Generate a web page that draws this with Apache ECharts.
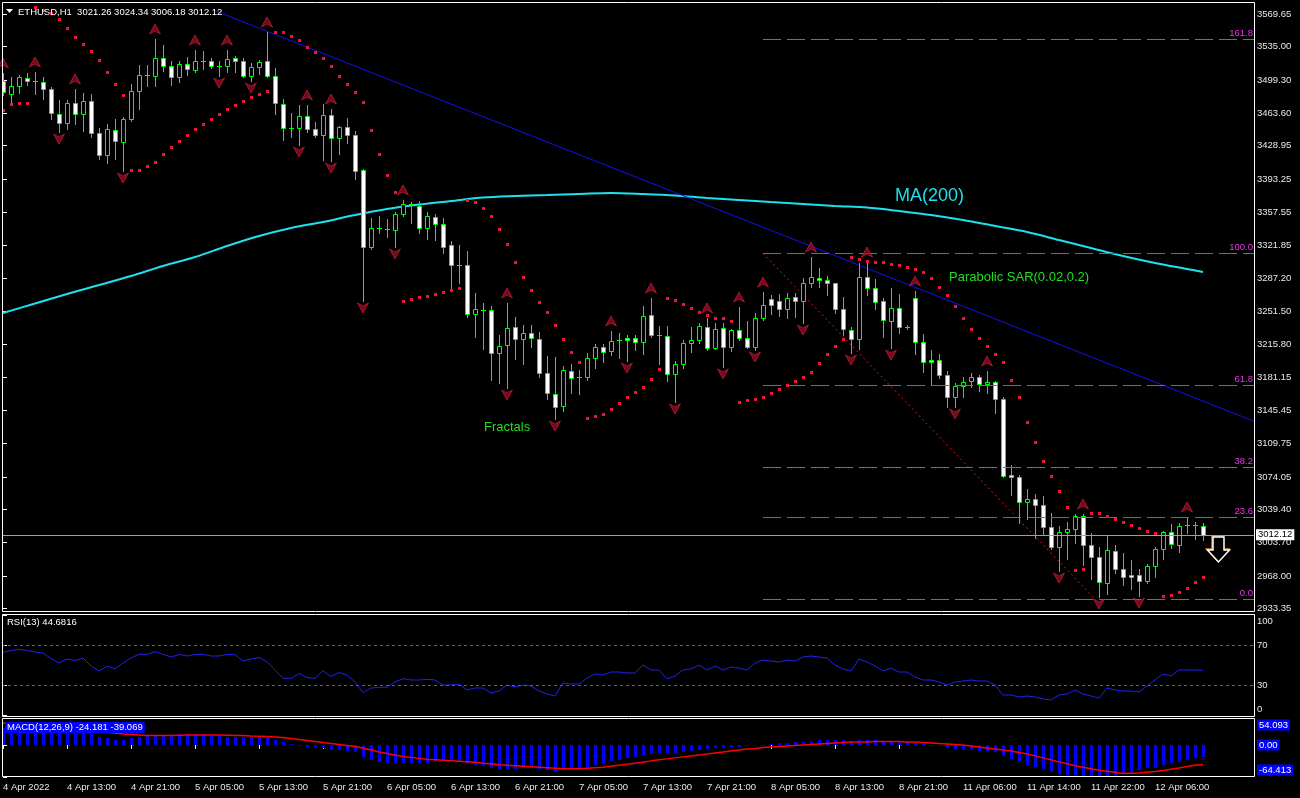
<!DOCTYPE html>
<html><head><meta charset="utf-8">
<script src="https://cdn.jsdelivr.net/npm/echarts@6/dist/echarts.min.js"></script>
<style>html,body{margin:0;padding:0;background:#000;}#c{width:1300px;height:798px;}</style>
</head><body><div id="c"></div>
<script>
// ---------- DATA ----------
const timeLabels = ['4 Apr 2022','4 Apr 13:00','4 Apr 21:00','5 Apr 05:00','5 Apr 13:00','5 Apr 21:00','6 Apr 05:00','6 Apr 13:00','6 Apr 21:00','7 Apr 05:00','7 Apr 13:00','7 Apr 21:00','8 Apr 05:00','8 Apr 13:00','8 Apr 21:00','11 Apr 06:00','11 Apr 14:00','11 Apr 22:00','12 Apr 06:00'];
const labelStep = 8;
// [open, close, low, high]
const candles = [
[3498.2,3486.4,3483.2,3506.8],[3484.3,3492.9,3475.7,3502.5],[3492.9,3502.5,3485.4,3504.7],[3501.4,3498.2,3493.9,3506.8],[3498.4,3498.0,3484.3,3507.9],
[3497.2,3489.7,3479.0,3502.5],[3489.7,3464.0,3457.5,3491.8],[3462.9,3453.2,3443.6,3477.9],[3453.2,3474.7,3446.8,3477.9],[3474.7,3462.9,3452.2,3489.7],
[3462.9,3476.8,3444.7,3485.4],[3476.8,3442.5,3438.2,3484.3],[3442.5,3419.0,3414.7,3447.9],[3419.0,3446.8,3410.4,3452.2],[3445.7,3434.0,3414.7,3457.5],
[3432.9,3457.5,3401.8,3459.7],[3457.5,3487.5,3455.4,3495.0],[3487.5,3504.7,3468.2,3515.4],[3504.7,3505.0,3492.9,3515.4],[3503.6,3522.9,3492.9,3543.2],
[3522.9,3514.3,3508.9,3536.8],[3514.3,3502.5,3493.9,3519.7],[3502.5,3516.4,3497.2,3519.7],[3516.4,3511.1,3504.7,3523.9],[3510.0,3519.7,3507.9,3531.4],
[3519.5,3519.9,3511.1,3530.4],[3519.7,3514.3,3512.2,3522.9],[3514.5,3514.1,3503.6,3519.7],[3514.3,3521.8,3507.9,3531.4],[3522.9,3519.7,3507.9,3525.0],
[3519.7,3503.6,3502.5,3522.9],[3503.6,3513.2,3498.2,3517.5],[3513.2,3518.6,3505.7,3520.7],[3519.7,3503.6,3503.0,3550.7],[3503.6,3474.7,3462.9,3512.2],
[3473.6,3447.9,3435.0,3479.0],[3448.1,3447.7,3438.2,3464.0],[3447.9,3460.7,3429.7,3472.5],[3460.7,3446.8,3443.6,3472.5],[3446.8,3440.4,3438.2,3454.3],
[3440.4,3461.8,3413.6,3473.6],[3461.8,3437.2,3412.5,3468.2],[3437.2,3449.0,3420.0,3450.0],[3449.0,3440.4,3431.8,3458.6],[3440.4,3401.8,3393.3,3444.7],
[3402.9,3320.4,3262.6,3403.5],[3320.4,3340.8,3318.3,3351.5],[3340.6,3341.0,3335.4,3353.6],[3339.5,3339.9,3331.1,3350.4],[3338.6,3355.8,3320.4,3357.9],
[3355.8,3366.5,3353.6,3370.8],[3366.0,3366.3,3346.1,3368.6],[3364.3,3340.8,3335.4,3369.7],[3340.8,3353.6,3329.0,3357.9],[3352.5,3345.0,3327.9,3355.8],
[3345.0,3320.4,3314.0,3351.5],[3322.6,3301.1,3276.5,3326.8],[3301.3,3300.9,3281.8,3322.6],[3301.1,3248.6,3245.4,3316.1],[3248.6,3254.0,3224.0,3271.1],
[3252.7,3253.1,3211.2,3260.4],[3252.9,3206.9,3177.9,3257.2],[3206.9,3214.4,3174.7,3226.1],[3215.4,3233.6,3169.4,3260.4],[3234.7,3221.9,3200.4,3245.4],
[3221.9,3228.3,3195.1,3236.9],[3228.3,3222.9,3213.3,3236.9],[3221.9,3185.4,3181.2,3229.4],[3185.4,3164.0,3157.6,3203.7],[3162.9,3149.0,3136.2,3202.6],
[3150.1,3188.7,3144.7,3192.9],[3187.6,3180.1,3164.0,3195.1],[3181.0,3181.4,3162.9,3188.7],[3181.2,3201.5,3177.9,3206.9],[3201.5,3213.3,3190.8,3216.5],
[3213.3,3207.9,3197.2,3216.5],[3209.0,3219.7,3204.7,3230.4],[3220.6,3220.9,3201.5,3228.3],[3222.9,3220.8,3198.3,3226.1],[3222.9,3218.6,3210.1,3226.1],
[3218.6,3246.5,3205.8,3257.2],[3247.6,3226.1,3224.0,3265.8],[3226.3,3225.9,3195.1,3235.8],[3225.1,3184.4,3176.9,3235.8],[3184.4,3195.1,3154.4,3198.3],
[3195.1,3217.6,3190.8,3220.8],[3217.6,3220.8,3207.9,3234.7],[3220.8,3235.8,3217.6,3239.0],[3234.7,3212.2,3210.1,3244.4],[3212.2,3232.6,3211.2,3239.0],
[3233.6,3213.3,3191.9,3239.0],[3213.3,3231.5,3209.0,3232.6],[3231.5,3222.9,3220.8,3256.1],[3222.9,3213.3,3212.2,3241.1],[3213.3,3244.4,3210.1,3249.7],
[3244.4,3258.3,3242.2,3272.2],[3264.7,3258.3,3248.6,3269.0],[3262.6,3254.0,3246.5,3270.1],[3254.0,3265.8,3244.4,3271.1],[3266.9,3262.6,3245.4,3271.1],
[3262.6,3281.8,3239.0,3287.2],[3281.8,3288.3,3277.6,3309.7],[3287.2,3285.1,3277.6,3297.9],[3285.1,3281.8,3269.0,3289.3],[3281.8,3254.0,3249.7,3282.2],
[3254.0,3232.6,3226.1,3266.9],[3231.5,3221.9,3206.9,3234.7],[3221.9,3288.3,3211.2,3303.3],[3288.3,3276.5,3269.0,3304.3],[3276.5,3261.5,3254.0,3286.1],
[3262.6,3242.2,3224.0,3265.8],[3241.1,3255.1,3212.2,3276.5],[3255.1,3234.7,3228.3,3270.1],[3234.9,3234.5,3232.6,3236.9],[3265.8,3218.6,3205.8,3273.3],
[3218.6,3197.2,3186.5,3227.2],[3199.4,3197.2,3172.6,3210.1],[3199.4,3183.3,3180.1,3205.8],[3183.3,3159.7,3149.0,3187.6],[3159.7,3171.5,3149.0,3174.7],
[3171.5,3175.8,3159.7,3181.2],[3176.9,3181.2,3170.4,3185.4],[3181.2,3173.7,3166.2,3183.3],[3173.7,3175.8,3164.0,3187.6],[3175.8,3157.6,3142.6,3176.9],
[3157.6,3075.1,3074.0,3159.7],[3076.2,3074.0,3054.8,3086.9],[3074.0,3047.3,3024.8,3076.2],[3047.3,3050.5,3029.0,3061.2],[3050.5,3044.0,3008.7,3055.8],
[3044.0,3020.5,3013.0,3053.7],[3020.5,2999.0,2996.9,3035.5],[2999.0,3015.1,2973.3,3021.5],[3015.1,3018.3,2986.2,3025.8],[3018.3,3032.3,3003.3,3034.4],
[3032.3,3001.2,2979.8,3034.4],[3001.2,2988.3,2964.8,3014.0],[2988.3,2961.6,2945.5,2999.0],[2960.5,2995.8,2948.7,3010.8],[2994.8,2975.5,2971.2,3001.2],
[2975.5,2966.9,2958.3,2992.6],[2969.1,2966.9,2954.1,2985.1],[2969.1,2962.6,2946.6,2975.5],[2962.6,2978.7,2960.5,2980.8],[2978.7,2996.9,2966.9,2999.0],
[2996.9,3015.1,2986.2,3016.2],[3015.1,3002.3,2998.0,3023.7],[3001.2,3021.5,2993.7,3024.8],[3022.4,3022.8,3014.0,3031.2],[3022.6,3022.2,3007.6,3025.8],
[3021.26,3012.12,3006.18,3024.34]
];
const sar = [
3467.2,3473.6,3474.7,3474.7,3577.2,3574.3,3570.8,3564.6,3555.0,3545.4,
3538.2,3530.4,3520.7,3507.9,3495.0,3483.2,3402.9,3402.9,3407.5,3411.5,
3420.0,3427.5,3434.0,3440.4,3446.8,3452.2,3457.5,3462.9,3468.2,3472.5,
3476.8,3481.1,3484.3,3487.5,3550.7,3550.7,3546.4,3542.2,3534.7,3529.3,
3522.9,3514.3,3503.6,3495.0,3486.4,3475.7,3445.7,3420.0,3397.5,3379.3,
3262.6,3264.7,3266.9,3267.9,3270.1,3272.2,3274.4,3276.5,3370.8,3368.6,
3362.2,3353.6,3339.7,3323.6,3304.3,3288.3,3274.4,3261.5,3250.8,3236.9,
3221.9,3207.9,3197.2,3137.2,3139.4,3141.5,3146.9,3153.3,3159.7,3165.1,
3170.4,3179.0,3189.7,3265.8,3263.6,3259.4,3255.1,3250.8,3247.6,3244.4,
3244.4,3241.1,3154.4,3156.5,3157.6,3159.7,3164.0,3168.3,3172.6,3176.9,
3181.2,3186.5,3196.2,3205.8,3214.4,3221.9,3309.7,3307.6,3305.4,3304.3,
3304.3,3302.2,3301.1,3299.0,3296.8,3293.6,3287.2,3277.6,3269.0,3257.2,
3244.4,3232.6,3222.9,3214.4,3205.8,3197.2,3177.9,3159.7,3133.0,3111.5,
3091.2,3075.1,3059.0,3041.9,2974.4,2975.5,3035.5,3035.5,3032.3,3029.0,
3025.8,3022.6,3019.4,3016.2,3014.0,2946.6,2947.6,2950.8,2955.1,2961.6,
2966.9];
const fractalUp = [0,4,9,19,24,28,33,38,41,50,63,76,81,88,92,95,101,108,114,123,135,148];
const fractalDown = [7,15,27,31,37,41,45,49,63,69,78,84,90,94,100,106,111,119,132,137,142];
const maIdx = [0,4,8,12,16,20,24,28,32,36,40,44,48,52,56,60,64,68,72,76,80,84,88,92,96,100,104,108,112,116,120,124,128,132,136,140,144,148,150];
const maVals = [3249.7,3259.9,3270.1,3279.7,3289.3,3300.1,3309.7,3321.5,3332.2,3340.8,3347.2,3354.7,3361.1,3365.9,3369.7,3373.4,3375.0,3376.1,3377.2,3378.3,3377.2,3375.6,3372.9,3370.8,3368.6,3366.5,3364.3,3362.7,3359.0,3354.7,3349.3,3342.9,3336.5,3327.9,3319.3,3310.8,3303.3,3296.8,3293.6];
const trendLine = [[26.25,3574.3],[156.375,3133.8]];
const fibAnchor = [[95,3313.7],[136.6,2942.6]];
const fibLabels = ['0.0','23.6','38.2','61.8','100.0','161.8'];
const fibPrices = [2942.6,3030.9,3084.7,3172.3,3313.7,3542.9];
const lastPrice = 3012.12;
const priceTicks = [3569.65,3535.00,3499.30,3463.60,3428.95,3393.25,3357.55,3321.85,3287.20,3251.50,3215.80,3181.15,3145.45,3109.75,3074.05,3039.40,3003.70,2968.00,2933.35];
const rsi = [
62.7,64.5,65.7,64.5,63.0,62.0,56.5,52.0,56.0,54.5,
57.0,49.0,44.0,49.0,46.3,52.0,57.0,60.7,60.7,63.3,
60.7,58.0,60.5,59.0,60.5,60.7,59.0,59.0,60.5,60.3,
54.0,56.0,57.5,53.3,45.0,36.7,36.7,41.5,37.5,36.7,
44.3,38.5,42.5,40.0,33.0,22.3,27.0,27.7,27.7,33.3,
36.2,35.0,35.0,35.7,35.0,30.0,30,31,25,27,
27,22,24,30,28,30,29,24,21,19,
32,31,31,37,41,40,43,43,42,42,
50,45,45,36,39,45,46,50,45,49,
45,48,47,45,52,55,54,53,55,54,
58,59,58,57,50,46,44,56,53,49,
44,47,43,43,38,35,35,33,30,33,
34,35,34,34,30,20,20,18,19,18,
16,15,20,21,25,21,19,17,27,25,
24,24,23,29,35,41,39,45,45,45,
44.68];
const rsiTicks = [0,30,70,100];
const macdMain = [
34,34,34,33,33,32,30,28,27,26,
25,22,15.4,13.4,10,10,13,16.7,18.7,20,
20,20,21.9,21.9,21.9,21.9,18.7,18.7,16.7,16.7,
15.4,16.7,15.4,13.4,10,5.4,2,-1.3,-4.6,-6.7,
-6.7,-10,-10,-11.3,-14.7,-23.3,-30,-34.7,-36,-36,
-36,-36,-36,-36,-35,-32,-33,-34,-38,-41,
-43,-47,-49,-48,-48,-47,-46,-48,-51,-54,
-51,-49,-47,-44,-40,-37,-33,-30,-27,-25,
-20,-18,-16,-17,-16,-14,-12,-10,-9,-7,
-6,-5,-4,-3,-2,0,2,3,4,5,
6,8,9,10,10,9,8,10,10,9,
8,7,7,6,3,1,-1,-3,-6,-8,
-10,-11,-12,-13,-15,-22,-28,-35,-40,-45,
-49,-54,-58,-60,-61,-62,-63,-64,-62,-61,
-58,-54,-50,-47,-46.7,-41.3,-36.7,-33.3,-30,-26,
-24.181];
const macdSignal = [
44,42,41,39,38,36,35,33,32,30,
29,27,26,25,24,22,21,20,19,18.7,
18.7,19,19.5,20,20,20,20,20,19.5,19,
18.7,18,17.5,17,16,15,13,11,9,7,
5,3,1,-1,-3,-6,-10,-14,-17,-20,
-23,-25,-27,-29,-30,-31,-32,-33,-34,-35,
-37,-38,-40,-41,-42,-43,-44,-45,-46,-47,
-48,-48,-48,-47,-46,-45,-43,-41,-39,-37,
-35,-32,-30,-28,-26,-24,-22,-20,-18,-16,
-14,-12,-10,-8,-7,-5,-4,-3,-2,-1,
0,1,2,3,4,5,6,6,6,7,
7,7,7,6,6,5,4,3,2,1,
0,-2,-4,-6,-8,-10,-12,-15,-18,-22,
-26,-30,-34,-38,-42,-45,-48,-51,-53,-55,
-57.5,-57,-56.5,-55,-53.5,-51.5,-49,-46.5,-43.5,-41,
-39.069];
const macdTicks = [-64.413,0,54.093];

// ---------- CHART ----------
const FONT = 'Liberation Sans, Arial, sans-serif';
const XMIN = -0.125, XMAX = 156.375;
const GREEN = '#00ff00';
const FIB = '#e020e0';
const chart = echarts.init(document.getElementById('c'), null, {renderer:'canvas'});

function renderCandle(params, api){
  const i = api.value(0), o = api.value(1), c = api.value(2), l = api.value(3), h = api.value(4);
  const pO = api.coord([i,o]), pC = api.coord([i,c]), pL = api.coord([i,l]), pH = api.coord([i,h]);
  const px = Math.floor(pO[0] + 0.01);
  const yTop = Math.round(Math.min(pO[1], pC[1])), yBot = Math.round(Math.max(pO[1], pC[1]));
  const ch = [{type:'line', shape:{x1:px+0.5, y1:Math.round(pH[1]), x2:px+0.5, y2:Math.round(pL[1])+1}, style:{stroke:GREEN, lineWidth:1}}];
  if (yBot - yTop < 1) {
    ch.push({type:'line', shape:{x1:px-2, y1:yTop+0.5, x2:px+3, y2:yTop+0.5}, style:{stroke:GREEN, lineWidth:1}});
  } else {
    ch.push({type:'rect', shape:{x:px-1.5, y:yTop+0.5, width:4, height:yBot-yTop}, style:{fill: c>o ? '#000' : '#fff', stroke:GREEN, lineWidth:1}});
  }
  return {type:'group', children:ch};
}
function renderSar(params, api){
  const p = api.coord([api.value(0), api.value(1)]);
  return {type:'rect', shape:{x:Math.floor(p[0]+0.01)-1, y:Math.round(p[1])-1, width:3, height:3}, style:{fill:'#f0143c'}};
}
function renderHist(params, api){
  const i = api.value(0), v = api.value(1);
  const p0 = api.coord([i,0]), p1 = api.coord([i,v]);
  const px = Math.floor(p0[0] + 0.01) - 1;
  const y0 = Math.round(Math.min(p0[1], p1[1])), y1 = Math.round(Math.max(p0[1], p1[1]));
  return {type:'rect', shape:{x:px, y:y0, width:3, height:Math.max(1, y1-y0)}, style:{fill:'#0000ff'}};
}

const labelTickIdx = timeLabels.map((t,k)=>k*labelStep);

const option = {
  backgroundColor:'#000',
  animation:false,
  grid:[
    {left:2, top:2, width:1252, height:609},
    {left:2, top:614, width:1252, height:102},
    {left:2, top:718, width:1252, height:59}
  ],
  xAxis:[
    {gridIndex:0, type:'value', min:XMIN, max:XMAX, show:false},
    {gridIndex:1, type:'value', min:XMIN, max:XMAX, show:false},
    {gridIndex:2, type:'value', min:XMIN, max:XMAX, splitLine:{show:false},
     axisLine:{show:false},
     axisTick:{show:true, customValues:labelTickIdx, length:4, lineStyle:{color:'#fff'}},
     axisLabel:{customValues:labelTickIdx, formatter:v=>timeLabels[Math.round(v/labelStep)], align:'left', color:'#e8e8e8', fontSize:9.5, fontFamily:FONT, margin:5}}
  ],
  yAxis:[
    {gridIndex:0, type:'value', position:'right', min:2930.50, max:3582.86, splitLine:{show:false}, axisLine:{show:false},
     axisTick:{show:true, customValues:priceTicks, length:4, lineStyle:{color:'#fff'}},
     axisLabel:{customValues:priceTicks, formatter:v=>v.toFixed(2), color:'#e8e8e8', fontSize:9.5, fontFamily:FONT, margin:3}},
    {gridIndex:1, type:'value', position:'right', min:-1, max:101, splitLine:{show:false}, axisLine:{show:false},
     axisTick:{show:true, customValues:rsiTicks, length:4, lineStyle:{color:'#fff'}},
     axisLabel:{customValues:rsiTicks, color:'#e8e8e8', fontSize:9.5, fontFamily:FONT, margin:3, lineHeight:12,
       formatter:v=> v===100 ? '\n100' : (v===0 ? '0\n' : String(v))}},
    {gridIndex:2, type:'value', position:'right', min:-64.413, max:54.093, splitLine:{show:false}, axisLine:{show:false},
     axisTick:{show:true, customValues:macdTicks, length:4, lineStyle:{color:'#fff'}},
     axisLabel:{customValues:macdTicks, fontFamily:FONT, margin:3, lineHeight:14,
       formatter:v=> v>1 ? '\n{b|'+v.toFixed(3)+'}' : (v<-1 ? '{b|'+v.toFixed(3)+'}\n' : '{b|0.00}'),
       rich:{b:{backgroundColor:'#0000ff', color:'#fff', fontSize:9.5, fontFamily:FONT, padding:[1,2,0,2]}}}}
  ],
  series:[
    // MA(200)
    {type:'line', xAxisIndex:0, yAxisIndex:0, data:maIdx.map((x,k)=>[x,maVals[k]]), smooth:0.3, showSymbol:false, symbol:'none',
     lineStyle:{color:'#1ee0ee', width:2}, z:3,
     markLine:{silent:true, symbol:'none', animation:false,
       data:[{yAxis:lastPrice, lineStyle:{color:'#9aa0a8', width:1, type:'solid'},
              label:{show:true, position:'end', distance:2, formatter:lastPrice.toFixed(2), backgroundColor:'#fff', color:'#000', fontSize:9.5, fontFamily:FONT, padding:[1,2,0,2]}}]}},
    // trend line
    {type:'line', xAxisIndex:0, yAxisIndex:0, data:trendLine, showSymbol:false, symbol:'none', lineStyle:{color:'#1010f0', width:1}, z:3},
    // fib anchor + fib levels
    {type:'line', xAxisIndex:0, yAxisIndex:0, data:fibAnchor, showSymbol:false, symbol:'none', lineStyle:{color:'#e01818', width:1, type:[2,3]}, z:3,
     markLine:{silent:true, symbol:'none', animation:false,
       data:fibPrices.map((p,k)=>[
         {coord:[fibAnchor[0][0],p], lineStyle:{color:FIB, width:1, type:[18,6], opacity:1},
          label:{show:true, formatter:fibLabels[k], position:'insideEndTop', distance:[1,1], color:'#ee30ee', fontSize:9.5, fontFamily:FONT}},
         {coord:[XMAX,p]}])}},
    // candles
    {type:'custom', xAxisIndex:0, yAxisIndex:0, renderItem:renderCandle, clip:true,
     encode:{x:0, y:[1,2,3,4]}, data:candles.map((d,i)=>[i,d[0],d[1],d[2],d[3]]), z:4},
    // parabolic SAR
    {type:'custom', xAxisIndex:0, yAxisIndex:0, renderItem:renderSar, clip:true, encode:{x:0, y:1}, data:sar.map((v,i)=>[i,v]), z:5},
    // fractals
    {type:'scatter', xAxisIndex:0, yAxisIndex:0, data:fractalUp.map(i=>[i,candles[i][3]]), symbol:'path://M6,0 L12,10 L6,7 L0,10 Z',
     symbolSize:[11,10], symbolOffset:[0,-10], itemStyle:{color:'#8e0c26', borderColor:'#e0203f', borderWidth:0.8}, z:5},
    {type:'scatter', xAxisIndex:0, yAxisIndex:0, data:fractalDown.map(i=>[i,candles[i][2]]), symbol:'path://M0,0 L6,3 L12,0 L6,10 Z',
     symbolSize:[11,10], symbolOffset:[0,7], itemStyle:{color:'#8e0c26', borderColor:'#e0203f', borderWidth:0.8}, z:5},
    // RSI
    {type:'line', xAxisIndex:1, yAxisIndex:1, data:rsi.map((v,i)=>[i,v]), showSymbol:false, symbol:'none', lineStyle:{color:'#2020f0', width:1},
     markLine:{silent:true, symbol:'none', animation:false,
       data:[70,30].map(v=>({yAxis:v, lineStyle:{color:'#c020c0', width:1, type:[3,3]}, label:{show:false}}))}},
    // MACD histogram
    {type:'custom', xAxisIndex:2, yAxisIndex:2, renderItem:renderHist, clip:true, encode:{x:0, y:1}, data:macdMain.map((v,i)=>[i,v])},
    // MACD signal
    {type:'line', xAxisIndex:2, yAxisIndex:2, data:macdSignal.map((v,i)=>[i,v]), showSymbol:false, symbol:'none', lineStyle:{color:'#ff0000', width:1.5}, z:3}
  ],
  graphic:[
    {type:'rect', silent:true, z:50, shape:{x:2.5, y:2.5, width:1252, height:609}, style:{fill:null, stroke:'#fff', lineWidth:1}},
    {type:'rect', silent:true, z:50, shape:{x:2.5, y:614.5, width:1252, height:102}, style:{fill:null, stroke:'#fff', lineWidth:1}},
    {type:'rect', silent:true, z:50, shape:{x:2.5, y:718.5, width:1252, height:58}, style:{fill:null, stroke:'#fff', lineWidth:1}},
    {type:'polygon', silent:true, z:60, shape:{points:[[6,9],[13,9],[9.5,13]]}, style:{fill:'#fff'}},
    {type:'text', silent:true, z:60, style:{x:18, y:12, text:'ETHUSD,H1  3021.26 3024.34 3006.18 3012.12', fill:'#fff', font:'9.5px '+FONT, verticalAlign:'middle'}},
    {type:'text', silent:true, z:60, style:{x:7, y:622, text:'RSI(13) 44.6816', fill:'#fff', font:'9.5px '+FONT, verticalAlign:'middle'}},
    {type:'text', silent:true, z:60, style:{x:5, y:727.5, text:'MACD(12,26,9) -24.181 -39.069', fill:'#fff', backgroundColor:'#0000ff', padding:[1,2,0,2], font:'9.5px '+FONT, verticalAlign:'middle'}},
    {type:'text', silent:true, z:60, style:{x:895, y:196, text:'MA(200)', fill:'#1ee0ee', font:'18px '+FONT, verticalAlign:'middle'}},
    {type:'text', silent:true, z:60, style:{x:949, y:277, text:'Parabolic SAR(0.02,0.2)', fill:'#22dd22', font:'13px '+FONT, verticalAlign:'middle'}},
    {type:'text', silent:true, z:60, style:{x:484, y:427, text:'Fractals', fill:'#22dd22', font:'13px '+FONT, verticalAlign:'middle'}},
    {type:'polygon', silent:true, z:60, shape:{points:[[1212,536],[1223,536],[1223,549],[1228.5,549],[1217.5,561],[1206.5,549],[1212,549]]}, style:{fill:'none', stroke:'#e08a1e', lineWidth:1.5}},
    {type:'polygon', silent:true, z:61, shape:{points:[[1213,537],[1224,537],[1224,550],[1229.5,550],[1218.5,562],[1207.5,550],[1213,550]]}, style:{fill:'#000', stroke:'#fff', lineWidth:1.5}}
  ]
};
chart.setOption(option);
</script>
</body></html>
